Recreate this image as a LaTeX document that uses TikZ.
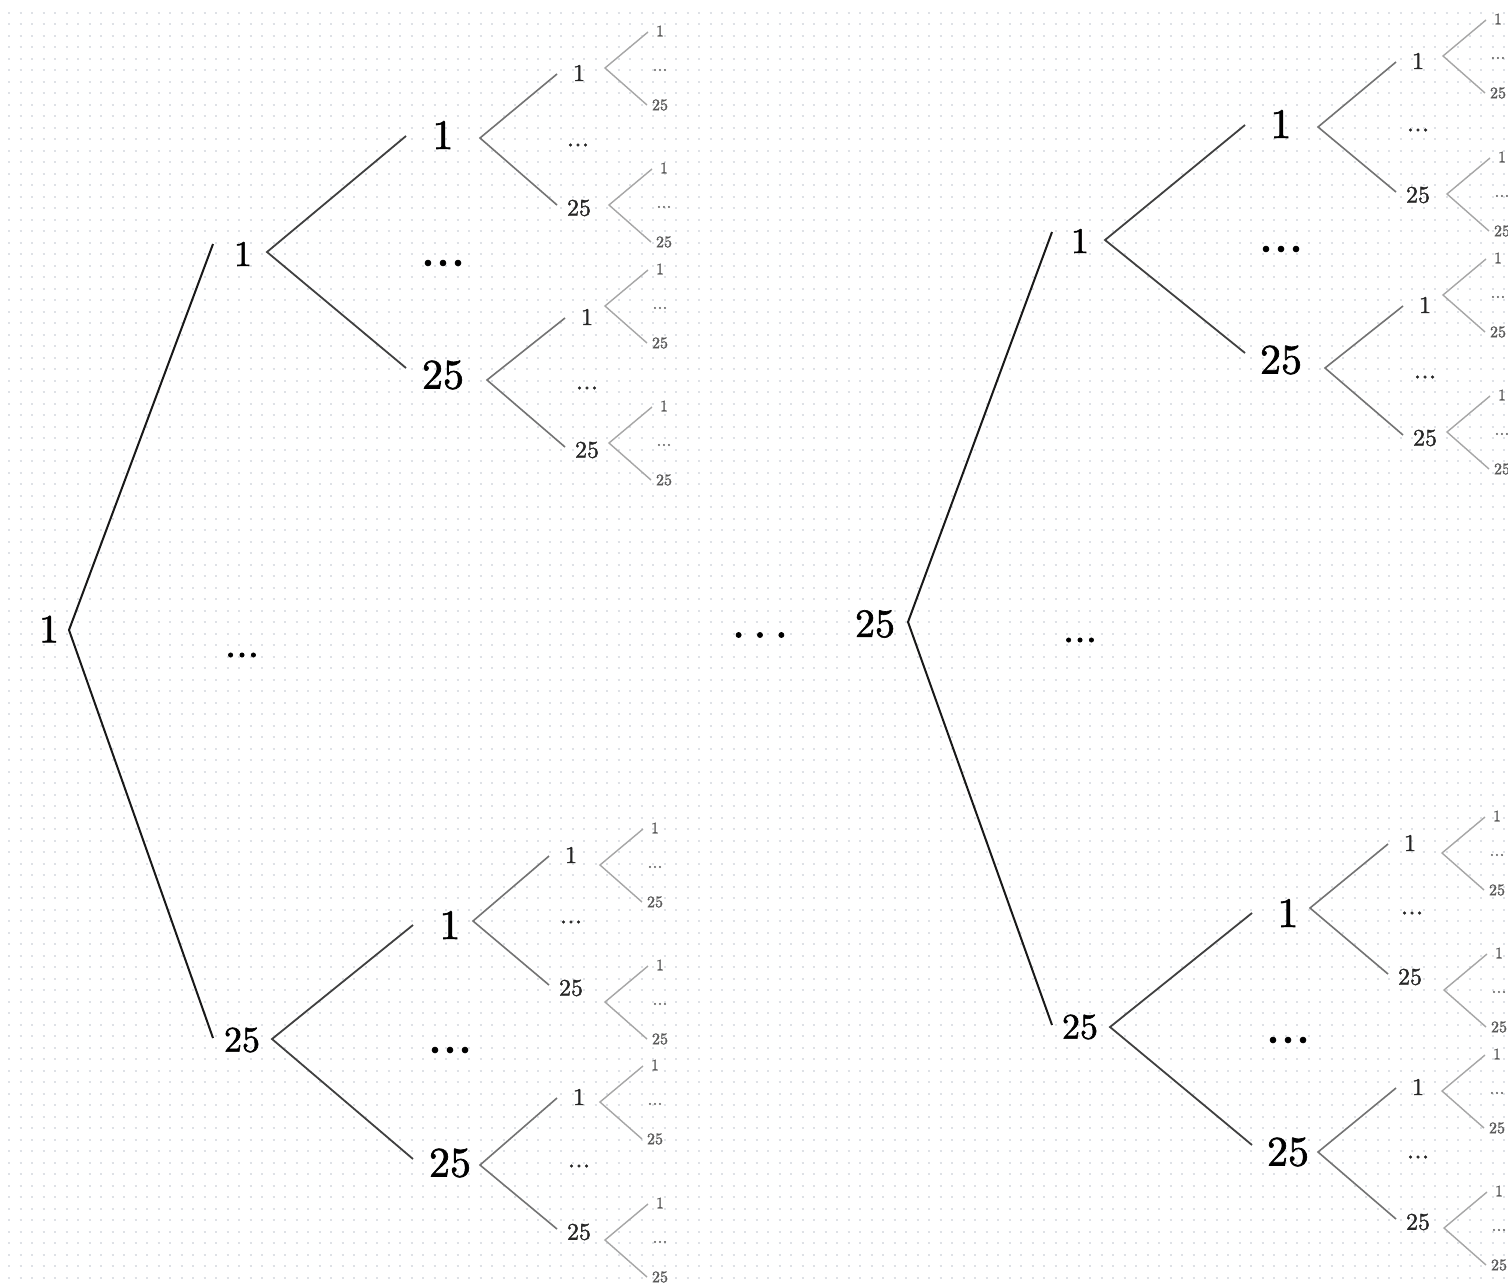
\documentclass[tikz,border=0pt]{standalone}
\usepackage{fontspec}
\setmainfont{lmroman10-regular.otf}[RawFeature={embolden=1.5}]
\definecolor{gridc}{RGB}{222,225,230}
\newcommand\lfgrp[6]{% #1 name, #2 lx, #3 ly, #4 label, #5 x of leaves, #6 fork y
  \node[lfour] (#1) at (#2,#3) {#4};
  \node[lfive] (#1a) at (#5,#6-37) {1};
  \node[dfive] (#1d) at (#5,#6+2) {...};
  \node[lfive] (#1b) at (#5,#6+37) {25};
  \draw[efour] ([shift={(-12,1)}]#1a.center) -- ([shift={({#5-55-#2},{#6-#3})}]#1.center) -- ([shift={(-13,0)}]#1b.center);
}
\newcommand\tdots{.\kern0.167em.\kern0.167em.}
\begin{document}
\begin{tikzpicture}[x=0.5pt,y=-0.5pt,
  every node/.style={inner sep=0pt, anchor=center},
  lone/.style={font=\fontsize{20}{24}\selectfont},
  ltwo/.style={font=\fontsize{18}{22}\selectfont},
  lthree/.style={font=\fontsize{21}{25}\selectfont},
  lfour/.style={font=\fontsize{12}{14}\selectfont, text=black!85},
  lfive/.style={font=\fontsize{8}{10}\selectfont, text=black!65},
  dbig/.style={font=\fontsize{24}{28}\selectfont},
  dtwo/.style={font=\fontsize{20.5}{24}\selectfont},
  dthree/.style={font=\fontsize{27}{30}\selectfont},
  dfour/.style={font=\fontsize{13.5}{16}\selectfont, text=black!85},
  dfive/.style={font=\fontsize{9}{11}\selectfont, text=black!60},
  eone/.style={draw=black!90, line width=1pt},
  etwo/.style={draw=black!75, line width=0.9pt},
  ethree/.style={draw=black!55, line width=0.8pt},
  efour/.style={draw=black!35, line width=0.7pt},
  griddots/.style={draw=gridc, line width=1pt, dash pattern=on 1pt off 4.75pt},
]
\useasboundingbox (0,0) rectangle (1508,1286);
\clip (0,0) rectangle (1508,1286);
\fill[white] (0,0) rectangle (1508,1286);
\foreach \i in {0,...,110}{
  \draw[griddots] (8,12.5+11.5*\i) -- (1508,12.5+11.5*\i);
}

% ---------------- left tree ----------------
\node[lone] (R1) at (49,629) {1};
\node[dtwo] (R1d) at (242,655) {...};
\node[ltwo] (A) at (243,254) {1};
\node[ltwo] (B) at (242,1040) {25};
\draw[eone] ([shift={(-30,-10)}]A.center) -- ([shift={(20,1)}]R1.center) -- ([shift={(-29,-2)}]B.center);

\node[dthree] (Ad) at (443,263) {...};
\node[lthree] (AA) at (443,135) {1};
\node[lthree] (AB) at (443,375) {25};
\draw[etwo] ([shift={(-37,1)}]AA.center) -- ([shift={(24,-2)}]A.center) -- ([shift={(-37,-7)}]AB.center);

\node[dthree] (Bd) at (450,1050) {...};
\node[lthree] (BA) at (450,925) {1};
\node[lthree] (BB) at (450,1163) {25};
\draw[etwo] ([shift={(-37,0)}]BA.center) -- ([shift={(30,-1)}]B.center) -- ([shift={(-37,-4)}]BB.center);

\node[dfour] (AAd) at (578,145) {...};
\lfgrp{AAA}{579}{73}{1}{660}{68}
\lfgrp{AAB}{579}{208}{25}{664}{205}
\draw[ethree] ([shift={(-22,1)}]AAA.center) -- ([shift={(37,3)}]AA.center) -- ([shift={(-22,-3)}]AAB.center);

\node[dfour] (ABd) at (587,388) {...};
\lfgrp{ABA}{587}{317}{1}{660}{306}
\lfgrp{ABB}{587}{450}{25}{664}{443}
\draw[ethree] ([shift={(-22,1)}]ABA.center) -- ([shift={(44,5)}]AB.center) -- ([shift={(-22,-3)}]ABB.center);

\node[dfour] (BAd) at (571,922) {...};
\lfgrp{BAA}{571}{855}{1}{655}{865}
\lfgrp{BAB}{571}{988}{25}{660}{1002}
\draw[ethree] ([shift={(-22,1)}]BAA.center) -- ([shift={(23,-4)}]BA.center) -- ([shift={(-22,-3)}]BAB.center);

\node[dfour] (BBd) at (579,1166) {...};
\lfgrp{BBA}{579}{1097}{1}{655}{1102}
\lfgrp{BBB}{579}{1232}{25}{660}{1240}
\draw[ethree] ([shift={(-22,1)}]BBA.center) -- ([shift={(30,2)}]BB.center) -- ([shift={(-22,-3)}]BBB.center);

% ---------------- middle dots ----------------
\node[dbig] (M) at (760,635) {\tdots};

% ---------------- right tree ----------------
\node[lone] (R2) at (875,624) {25};
\node[dtwo] (R2d) at (1080,640) {...};
\node[ltwo] (C) at (1080,241) {1};
\node[ltwo] (D) at (1080,1027) {25};
\draw[eone] ([shift={(-28,-9)}]C.center) -- ([shift={(33,-2)}]R2.center) -- ([shift={(-28,-2)}]D.center);

\node[dthree] (Cd) at (1281,249) {...};
\node[lthree] (CA) at (1281,124) {1};
\node[lthree] (CB) at (1281,360) {25};
\draw[etwo] ([shift={(-36,1)}]CA.center) -- ([shift={(25,-1)}]C.center) -- ([shift={(-36,-7)}]CB.center);

\node[dthree] (Dd) at (1288,1040) {...};
\node[lthree] (DA) at (1288,913) {1};
\node[lthree] (DB) at (1288,1152) {25};
\draw[etwo] ([shift={(-36,0)}]DA.center) -- ([shift={(30,0)}]D.center) -- ([shift={(-36,-7)}]DB.center);

\node[dfour] (CAd) at (1418,130) {...};
\lfgrp{CAA}{1418}{61}{1}{1498}{56}
\lfgrp{CAB}{1418}{195}{25}{1502}{194}
\draw[ethree] ([shift={(-22,1)}]CAA.center) -- ([shift={(37,3)}]CA.center) -- ([shift={(-22,-3)}]CAB.center);

\node[dfour] (CBd) at (1425,377) {...};
\lfgrp{CBA}{1425}{305}{1}{1498}{295}
\lfgrp{CBB}{1425}{438}{25}{1502}{432}
\draw[ethree] ([shift={(-22,1)}]CBA.center) -- ([shift={(44,8)}]CB.center) -- ([shift={(-22,-3)}]CBB.center);

\node[dfour] (DAd) at (1412,913) {...};
\lfgrp{DAA}{1410}{843}{1}{1497}{853}
\lfgrp{DAB}{1410}{977}{25}{1499}{990}
\draw[ethree] ([shift={(-22,1)}]DAA.center) -- ([shift={(22,-5)}]DA.center) -- ([shift={(-22,-3)}]DAB.center);

\node[dfour] (DBd) at (1418,1157) {...};
\lfgrp{DBA}{1418}{1087}{1}{1497}{1091}
\lfgrp{DBB}{1418}{1222}{25}{1499}{1228}
\draw[ethree] ([shift={(-22,1)}]DBA.center) -- ([shift={(30,0)}]DB.center) -- ([shift={(-22,-3)}]DBB.center);
\end{tikzpicture}
\end{document}
